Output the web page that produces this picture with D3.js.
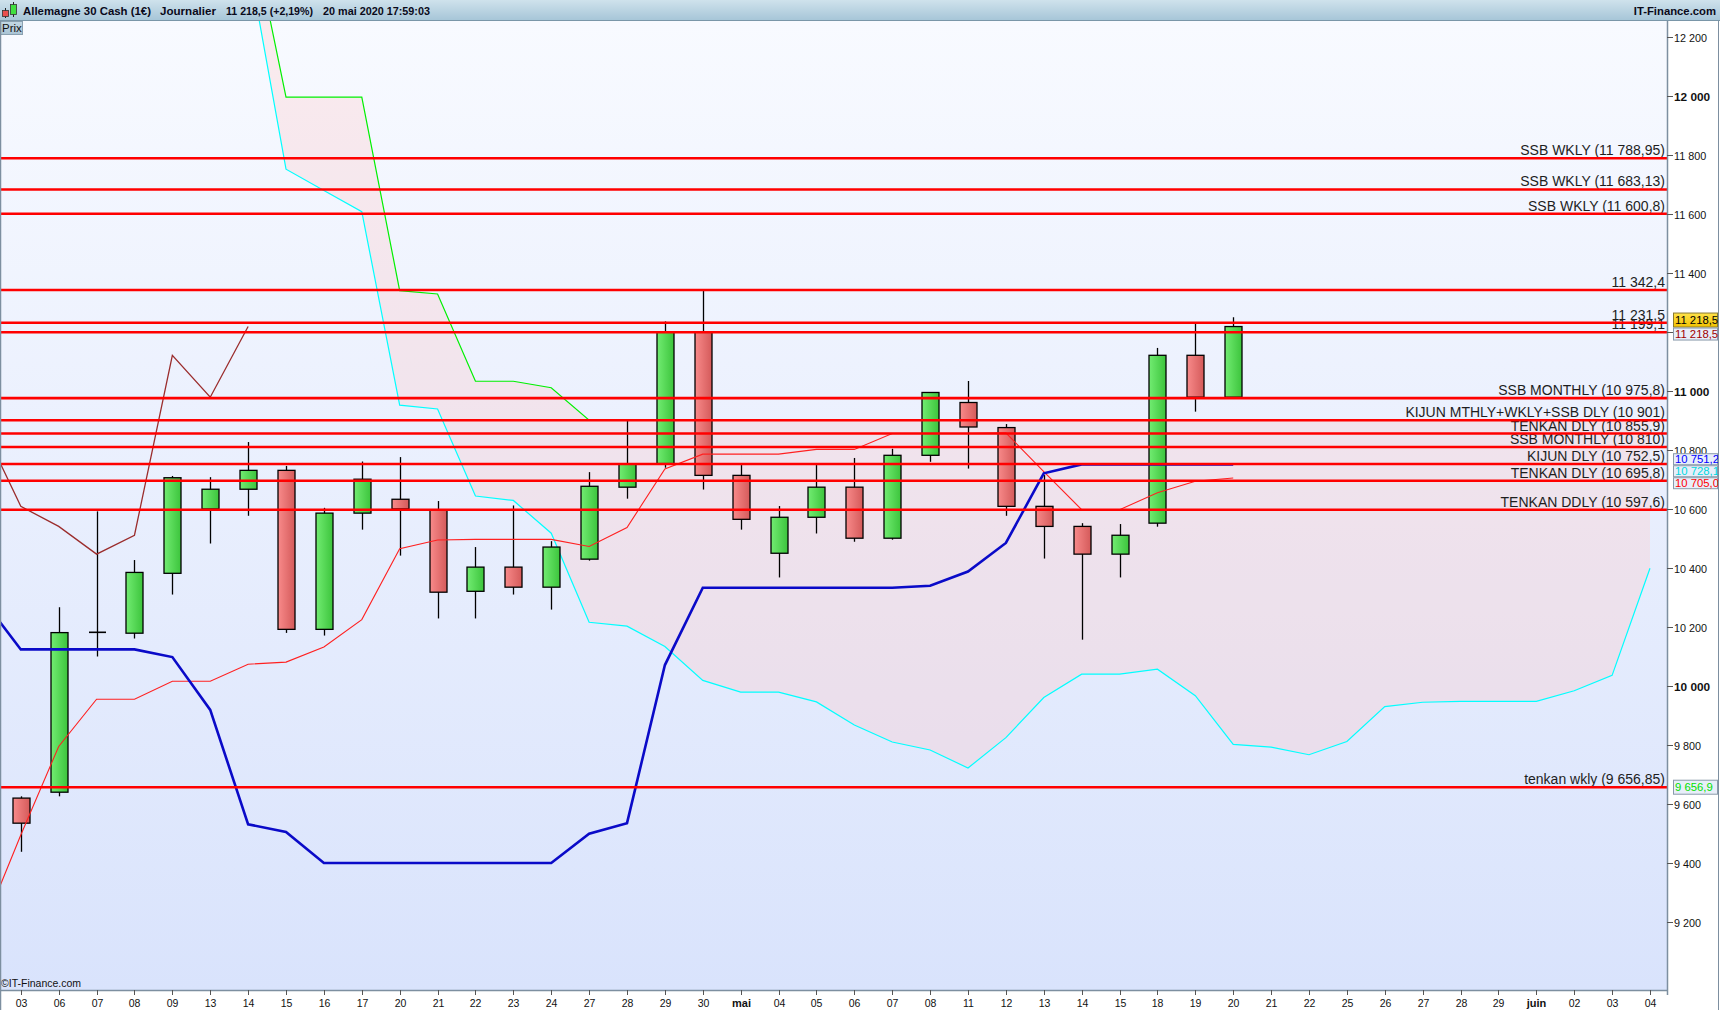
<!DOCTYPE html>
<html><head><meta charset="utf-8">
<script src="https://cdn.jsdelivr.net/npm/d3@7/dist/d3.min.js"></script>
<style>
html,body{margin:0;padding:0;background:#fff;}
svg{display:block;font-family:"Liberation Sans",Arial,sans-serif;}
</style>
</head><body>
<svg id="chart" width="1720" height="1010"></svg>
<script>
// ---------------- DATA ----------------
const dates = ["03","06","07","08","09","13","14","15","16","17","20","21","22","23","24","27","28","29","30","mai","04","05","06","07","08","11","12","13","14","15","18","19","20","21","22","25","26","27","28","29","juin","02","03","04"];
const monthLabels = ["mai","juin"];

const openP  = [9620,9640,10181,10179,10382,10600,10667,10731,10192,10586,10633,10597,10321,10403,10335,10430,10674,10754,11200,10714,10450,10572,10674,10501,10782,10961,10876,10609,10541,10447,10552,11121,10979];
const highP  = [9626,10267,10592,10427,10712,10708,10827,10746,10604,10761,10776,10627,10471,10612,10491,10725,10899,11236,11342,10749,10610,10749,10773,10804,10995,11034,10888,10715,10552,10549,11146,11229,11250];
const lowP   = [9438,9626,10100,10161,10310,10483,10577,10180,10171,10530,10442,10229,10229,10310,10259,10425,10635,10740,10666,10530,10368,10517,10489,10496,10760,10737,10577,10432,10157,10368,10540,10930,10975];
const closeP = [9535,10181,10182,10385,10706,10667,10731,10192,10586,10701,10600,10318,10403,10335,10471,10677,10752,11200,10714,10565,10572,10674,10501,10782,10995,10878,10609,10541,10447,10511,11121,10979,11218.5];

// Ichimoku (first index of each series given separately)
const tenkanStart = -1;
const tenkan = [9180,9495,9795,9955,9955,10016,10016,10074,10081,10132,10225,10465,10495,10497,10497,10497,10473,10537,10736,10786,10786,10786,10802,10802,10856,10856,10856,10858,10727,10597.6,10597.6,10655,10694,10705];
const kijunStart = -1;
const kijun = [10293,10124,10124,10124,10124,10098,9919,9531,9505,9400,9400,9400,9400,9400,9400,9400,9499,9535,10071,10333,10333,10333,10333,10333,10333,10340,10388,10485,10721,10751.2,10751.2,10751.2,10751.2,10751.2];
const chikouStart = -1;
const chikou = [10878,10609,10541,10447,10511,11121,10979,11218.5];
const ssaStart = 6;
const ssa = [12465,11752,11680,11608,10952,10939,10644,10629,10518,10216,10203,10134,10019,9979,9979,9946,9868,9810,9783,9722,9825,9961,10040,10040,10057,9967,9802,9793,9767,9812,9930,9945,9948,9948,9948,9984,10036,10399];
const ssbStart = 6;
const ssb = [12620,11996,11996,11996,11340,11329,11033,11033,11011,10901,10901,10901,10901,10901,10901,10901,10901,10901,10901,10901,10901,10901,10901,10901,10901,10901,10901,10901,10901,10901,10901,10901,10901,10901,10901,10901,10901,10901];

// horizontal levels
const levelValues = [11788.95,11683.13,11600.8,11342.4,11231.5,11199.1,10975.8,10901,10855.9,10810,10752.5,10695.8,10597.6,9656.85];
const levelLabels = ["SSB WKLY (11 788,95)","SSB WKLY (11 683,13)","SSB WKLY (11 600,8)","11 342,4","11 231,5","11 199,1","SSB MONTHLY (10 975,8)","KIJUN MTHLY+WKLY+SSB DLY (10 901)","TENKAN DLY (10 855,9)","SSB MONTHLY (10 810)","KIJUN DLY (10 752,5)","TENKAN DLY (10 695,8)","TENKAN DDLY (10 597,6)","tenkan wkly (9 656,85)"];

// right axis
const yTickValues = [9200,9400,9600,9800,10000,10200,10400,10600,10800,11000,11200,11400,11600,11800,12000,12200];
const yTickLabels = ["9 200","9 400","9 600","9 800","10 000","10 200","10 400","10 600","10 800","11 000","11 200","11 400","11 600","11 800","12 000","12 200"];
const yBoldTicks = [10000,11000,12000];

// price tags on the axis
const tagValues = [11218.5,11218.5,10751.2,10728.1,10705.0,9656.9];
const tagLabels = ["11 218,5","11 218,5","10 751,2","10 728,1","10 705,0","9 656,9"];

const headerParts = ["Allemagne 30 Cash (1€)","Journalier","11 218,5 (+2,19%)","20 mai 2020 17:59:03"];

// ---------------- STYLE / LAYOUT ----------------
const W = 1720, H = 1010;
const plot = {left:0, right:1667, top:21, bottom:990};
const tagStyles = [
  {text:"#000", fill:"url(#gYellow)", stroke:"#8a7a30", h:15},
  {text:"#a00000", fill:"#e8eef9", stroke:"#8a9aaa", h:13},
  {text:"#0000ff", fill:"#e8eef9", stroke:"#8a9aaa", h:12},
  {text:"#00d8e0", fill:"#e8eef9", stroke:"#8a9aaa", h:12},
  {text:"#ff0000", fill:"#e8eef9", stroke:"#8a9aaa", h:12},
  {text:"#00e000", fill:"#e8eef9", stroke:"#8a9aaa", h:15}
];
const headerX = [23,160,226,323];
const headerW = [128,56,87,107];

const svg = d3.select("#chart");
const defs = svg.append("defs");

function vGrad(id, stops, horizontal){
  const g = defs.append("linearGradient").attr("id", id)
    .attr("x1",0).attr("y1",0).attr("x2", horizontal?1:0).attr("y2", horizontal?0:1);
  stops.forEach(s=>g.append("stop").attr("offset",s[0]).attr("stop-color",s[1]));
}
vGrad("gBg", [[0,"#f8faff"],[1,"#d9e3fc"]]);
vGrad("gHead", [[0,"#cfe2ec"],[1,"#a7c6d8"]]);
vGrad("gGreen", [[0,"#72ec72"],[1,"#3cc43c"]], true);
vGrad("gRed", [[0,"#f88a8a"],[1,"#d45a5a"]], true);
vGrad("gYellow", [[0,"#ffe34a"],[1,"#f2c200"]]);
vGrad("gPrix", [[0,"#c4d8e4"],[1,"#a9c3d4"]]);

defs.append("clipPath").attr("id","clipPlot").append("rect")
  .attr("x",plot.left).attr("y",plot.top).attr("width",plot.right-plot.left).attr("height",plot.bottom-plot.top);

// scales
const x = d3.scaleLinear().domain([-0.549, 43.449]).range([plot.left, plot.right]);
const y = d3.scaleLinear().domain([9200, 12200]).range([922, 37]);

// background
svg.append("rect").attr("width",W).attr("height",H).attr("fill","#fff");
svg.append("rect").attr("x",plot.left).attr("y",plot.top).attr("width",plot.right-plot.left).attr("height",plot.bottom-plot.top).attr("fill","url(#gBg)");

const gPlot = svg.append("g").attr("clip-path","url(#clipPlot)");

function seriesPts(arr, start){ return arr.map((v,i)=>[start+i, v]); }

// cloud
const cloud = ssa.map((v,i)=>({i:ssaStart+i, a:v, b:ssb[i]}));
gPlot.append("path").datum(cloud)
  .attr("d", d3.area().x(d=>x(d.i)).y0(d=>y(d.a)).y1(d=>y(d.b)))
  .attr("fill","rgb(255,200,200)").attr("fill-opacity",0.3);

const line = d3.line().x(d=>x(d[0])).y(d=>y(d[1]));
gPlot.append("path").datum(seriesPts(ssa,ssaStart)).attr("d",line).attr("fill","none").attr("stroke","#00ffff").attr("stroke-width",1.2);
gPlot.append("path").datum(seriesPts(ssb,ssbStart)).attr("d",line).attr("fill","none").attr("stroke","#00f000").attr("stroke-width",1.2);

// candles
const candles = openP.map((o,i)=>({i, o, h:highP[i], l:lowP[i], c:closeP[i]}));
const bw = 17;
const gC = gPlot.append("g");
candles.forEach(d=>{
  const cx = Math.round(x(d.i))+0.5;
  gC.append("line").attr("x1",cx).attr("x2",cx).attr("y1",y(d.h)).attr("y2",y(d.l)).attr("stroke","#000").attr("stroke-width",1.3);
  const top = y(Math.max(d.o,d.c)), bot = y(Math.min(d.o,d.c));
  if (bot - top < 1.5) {
    gC.append("line").attr("x1",cx-bw/2).attr("x2",cx+bw/2).attr("y1",top).attr("y2",top).attr("stroke","#000").attr("stroke-width",1.6);
  } else {
    gC.append("rect").attr("x",cx-bw/2).attr("y",top).attr("width",bw).attr("height",bot-top)
      .attr("fill", d.c>=d.o ? "url(#gGreen)" : "url(#gRed)").attr("stroke","#000").attr("stroke-width",1.3);
  }
});

// indicator lines
gPlot.append("path").datum(seriesPts(chikou,chikouStart)).attr("d",line).attr("fill","none").attr("stroke","#9b2d2d").attr("stroke-width",1.3);
gPlot.append("path").datum(seriesPts(tenkan,tenkanStart)).attr("d",line).attr("fill","none").attr("stroke","#ff2020").attr("stroke-width",1.1);
gPlot.append("path").datum(seriesPts(kijun,kijunStart)).attr("d",line).attr("fill","none").attr("stroke","#0a0ac8").attr("stroke-width",2.6);

// level labels then lines
const gL = svg.append("g");
levelValues.forEach((v,k)=>{
  gL.append("text").attr("x",1665).attr("y",y(v)-3).attr("text-anchor","end")
    .attr("font-size",14).attr("fill","#1e1e1e").text(levelLabels[k]);
});
levelValues.forEach(v=>{
  gL.append("line").attr("x1",plot.left).attr("x2",plot.right).attr("y1",y(v)).attr("y2",y(v))
    .attr("stroke","#ff0000").attr("stroke-width",2.6);
});

// price tags layout (collision avoidance)
let tags = tagValues.map((v,k)=>({k, y:y(v), h:tagStyles[k].h}));
tags.sort((a,b)=>a.y-b.y || a.k-b.k);
let groups = tags.map(t=>({items:[t], c:t.y, h:t.h}));
let merged = true;
while (merged) {
  merged = false;
  for (let g=0; g<groups.length-1; g++){
    const A = groups[g], B = groups[g+1];
    if (A.c + A.h/2 > B.c - B.h/2) {
      const items = A.items.concat(B.items);
      const c = d3.mean(items, t=>t.y);
      groups.splice(g,2,{items, c, h:A.h+B.h});
      merged = true; break;
    }
  }
}
const tagBoxes = [];
groups.forEach(G=>{
  let top = G.c - G.h/2;
  G.items.forEach(t=>{ tagBoxes.push({k:t.k, top, h:tagStyles[t.k].h}); top += tagStyles[t.k].h; });
});

// right axis
svg.append("line").attr("x1",plot.right+0.5).attr("x2",plot.right+0.5).attr("y1",plot.top).attr("y2",plot.bottom+5).attr("stroke","#7d8fa0").attr("stroke-width",1.5);
yTickValues.forEach((v,k)=>{
  const yy = Math.round(y(v))+0.5;
  svg.append("line").attr("x1",plot.right).attr("x2",plot.right+6).attr("y1",yy).attr("y2",yy).attr("stroke","#555").attr("stroke-width",1);
  const covered = tagBoxes.some(b=>yy>=b.top && yy<=b.top+b.h);
  if (covered) return; // label hidden behind a price tag, as in the original
  const bold = yBoldTicks.includes(v);
  svg.append("text").attr("x",plot.right+7).attr("y",yy+4).attr("font-size",bold?11.8:10.8)
    .attr("font-weight",bold?"bold":"normal").attr("fill","#111").text(yTickLabels[k]);
});

// bottom axis
svg.append("line").attr("x1",plot.left).attr("x2",plot.right).attr("y1",plot.bottom+0.5).attr("y2",plot.bottom+0.5).attr("stroke","#7d8fa0").attr("stroke-width",1.5);
dates.forEach((lab,i)=>{
  const xx = Math.round(x(i))+0.5;
  svg.append("line").attr("x1",xx).attr("x2",xx).attr("y1",plot.bottom).attr("y2",plot.bottom+5).attr("stroke","#555");
  const bold = monthLabels.includes(lab);
  svg.append("text").attr("x",xx).attr("y",1006.5).attr("text-anchor","middle")
    .attr("font-size",bold?11:10.5).attr("font-weight",bold?"bold":"normal").attr("fill","#111").text(lab);
});

// price tags drawing
const gT = svg.append("g");
tagBoxes.forEach(b=>{
  const st = tagStyles[b.k];
  gT.append("rect").attr("x",1673.5).attr("y",b.top+0.5).attr("width",44).attr("height",b.h-1)
    .attr("fill",st.fill).attr("stroke",st.stroke).attr("stroke-width",1);
  gT.append("text").attr("x",1675).attr("y",b.top+b.h/2+4).attr("font-size",11.3).attr("fill",st.text).text(tagLabels[b.k]);
});

// header
svg.append("rect").attr("x",0).attr("y",0).attr("width",W).attr("height",20).attr("fill","url(#gHead)");
svg.append("line").attr("x1",0).attr("x2",W).attr("y1",20.5).attr("y2",20.5).attr("stroke","#7a96a8");
// icon
svg.append("line").attr("x1",5.5).attr("x2",5.5).attr("y1",8).attr("y2",18).attr("stroke","#222");
svg.append("rect").attr("x",2.5).attr("y",10.5).attr("width",6).attr("height",6).attr("fill","#e85050").attr("stroke","#333").attr("stroke-width",0.8);
svg.append("line").attr("x1",13.5).attr("x2",13.5).attr("y1",2).attr("y2",17).attr("stroke","#222");
svg.append("rect").attr("x",10.5).attr("y",4.5).attr("width",6).attr("height",10).attr("fill","#40e040").attr("stroke","#333").attr("stroke-width",0.8);
headerParts.forEach((t,k)=>{
  svg.append("text").attr("x",headerX[k]).attr("y",15).attr("font-size",11.3).attr("font-weight","bold")
    .attr("textLength",headerW[k]).attr("lengthAdjust","spacingAndGlyphs").attr("fill","#0a0a1a").text(t);
});
svg.append("text").attr("x",1716).attr("y",15).attr("text-anchor","end").attr("font-size",11.3).attr("font-weight","bold").attr("fill","#0a0a1a").text("IT-Finance.com");

// Prix box
svg.append("rect").attr("x",0.5).attr("y",21.5).attr("width",22).attr("height",13).attr("fill","url(#gPrix)").attr("stroke","#8aa0b0");
svg.append("text").attr("x",2).attr("y",32).attr("font-size",11.5).attr("fill","#111").text("Prix");

// copyright
svg.append("text").attr("x",1).attr("y",987).attr("font-size",10.5).attr("fill","#111").text("©IT-Finance.com");

// outer borders
svg.append("line").attr("x1",0.5).attr("x2",0.5).attr("y1",21).attr("y2",H).attr("stroke","#7d8fa0").attr("stroke-width",1.5);
svg.append("line").attr("x1",W-1.5).attr("x2",W-1.5).attr("y1",21).attr("y2",H).attr("stroke","#7d8fa0").attr("stroke-width",1);
</script>
</body></html>
